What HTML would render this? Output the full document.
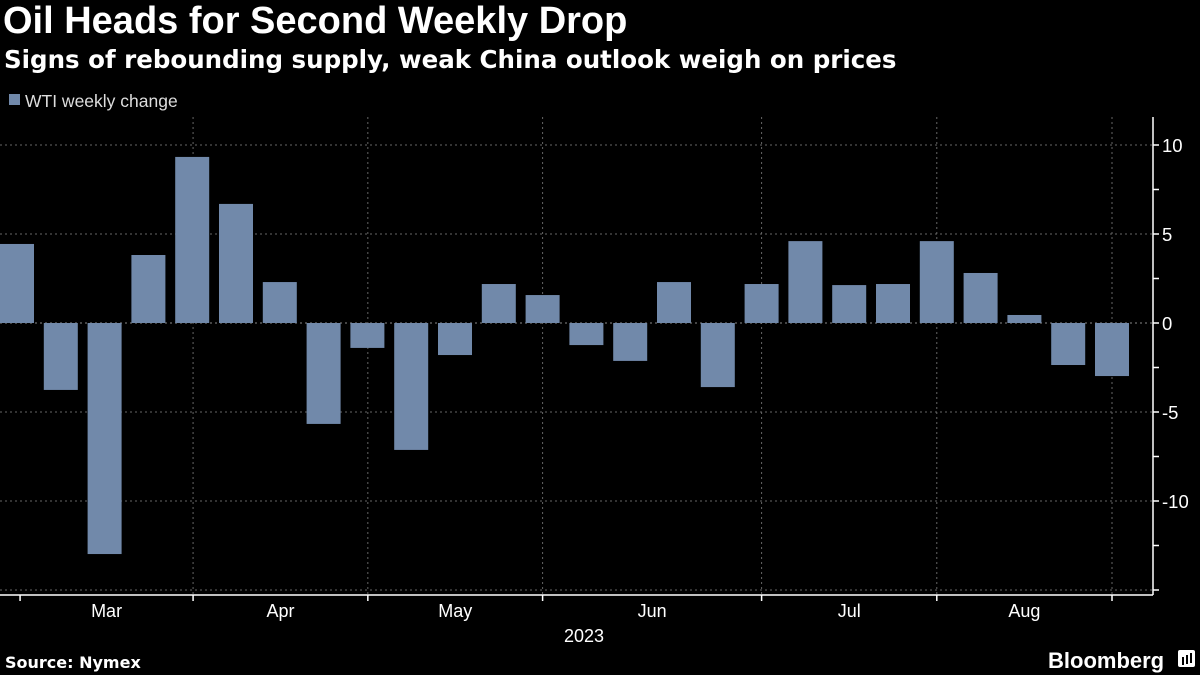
<!DOCTYPE html>
<html><head><meta charset="utf-8"><style>
body{margin:0;background:#000;width:1200px;height:675px;overflow:hidden;font-family:"Liberation Sans",sans-serif;color:#fff}
.t{position:absolute;left:3px;top:0px;font-size:38px;font-weight:bold}
.s{position:absolute;left:4px;top:45px;font-size:24.5px;font-weight:bold;font-family:"DejaVu Sans",sans-serif}
</style></head><body>
<div class="t">Oil Heads for Second Weekly Drop</div>
<div class="s">Signs of rebounding supply, weak China outlook weigh on prices</div>
<svg id="c" width="1200" height="675" style="position:absolute;left:0;top:0"></svg>
<script>
const values=[4.44,-3.76,-12.98,3.82,9.33,6.69,2.3,-5.67,-1.4,-7.13,-1.8,2.19,1.57,-1.24,-2.13,2.3,-3.6,2.19,4.6,2.13,2.19,4.6,2.81,0.45,-2.36,-2.98];
const yTicks=[10,5,0,-5,-10];
const months=["Mar","Apr","May","Jun","Jul","Aug"];
const monthBounds=[0.07,4.02,8.01,12.0,17.0,21.0,25.0];
const svg=document.getElementById('c');
const NS='http://www.w3.org/2000/svg';
const y=v=>323-v*17.8;
const x=i=>17+i*43.8;
function mk(t,a,p){const e=document.createElementNS(NS,t);for(const k in a)e.setAttribute(k,a[k]);(p||svg).appendChild(e);return e;}
[10,5,-5,-10,-15].forEach(v=>{const l=mk('line',{x1:0,x2:1153,y1:y(v),y2:y(v),stroke:'#666','stroke-dasharray':'2,3'});

});
monthBounds.slice(1).forEach(b=>{const l=mk('line',{x1:x(b),x2:x(b),y1:117,y2:595,stroke:'#666','stroke-dasharray':'2,3'});

});
mk('line',{x1:0,x2:1153,y1:y(0),y2:y(0),stroke:'#888','stroke-dasharray':'2,3'});
values.forEach((v,i)=>{const r=mk('rect',{x:x(i)-17,width:34,y:Math.min(y(v),y(0)),height:Math.abs(y(v)-y(0)),fill:'#7189aa'});

});
mk('line',{x1:0,x2:1153,y1:595,y2:595,stroke:'#fff','stroke-width':1.5});
mk('line',{x1:1153,x2:1153,y1:117,y2:595,stroke:'#fff','stroke-width':1.5});
for(let v=10;v>=-15;v-=2.5){mk('line',{x1:1153,x2:1159,y1:y(v),y2:y(v),stroke:'#fff','stroke-width':1.5});}
yTicks.forEach(v=>{const t=mk('text',{x:1162,y:y(v)+7,fill:'#fff','font-size':18.5});t.textContent=v<0?'-'+Math.abs(v):v;

});
monthBounds.forEach(b=>{const xx=x(b);mk('line',{x1:xx,x2:xx,y1:595,y2:601,stroke:'#fff','stroke-width':1.5});});
months.forEach((m,k)=>{const a=x(monthBounds[k]),b=x(monthBounds[k+1]);const t=mk('text',{x:(a+b)/2,y:617,fill:'#fff','font-size':18,'text-anchor':'middle'});t.textContent=m;

});
const yr=mk('text',{x:584,y:642,fill:'#fff','font-size':18,'text-anchor':'middle'});yr.textContent='2023';


const lg=mk('rect',{x:9,y:94,width:11,height:11,fill:'#7189aa'});


const lt=mk('text',{x:25,y:107,fill:'#ddd','font-size':17.5});lt.textContent='WTI weekly change';


const src=mk('text',{x:5,y:668,fill:'#fff','font-size':16,'font-weight':'bold','font-family':'DejaVu Sans, sans-serif'});src.textContent='Source: Nymex';


const bb=mk('text',{x:1048,y:668,fill:'#fff','font-size':22,'font-weight':'bold'});bb.textContent='Bloomberg';


mk('rect',{x:1178,y:650,width:17,height:17,rx:2,fill:'#fff'});
[1182,1186,1190].forEach((xx,k)=>mk('rect',{x:xx,y:657-k*2,width:2,height:8+k,fill:'#000'}));
</script>
</body></html>
